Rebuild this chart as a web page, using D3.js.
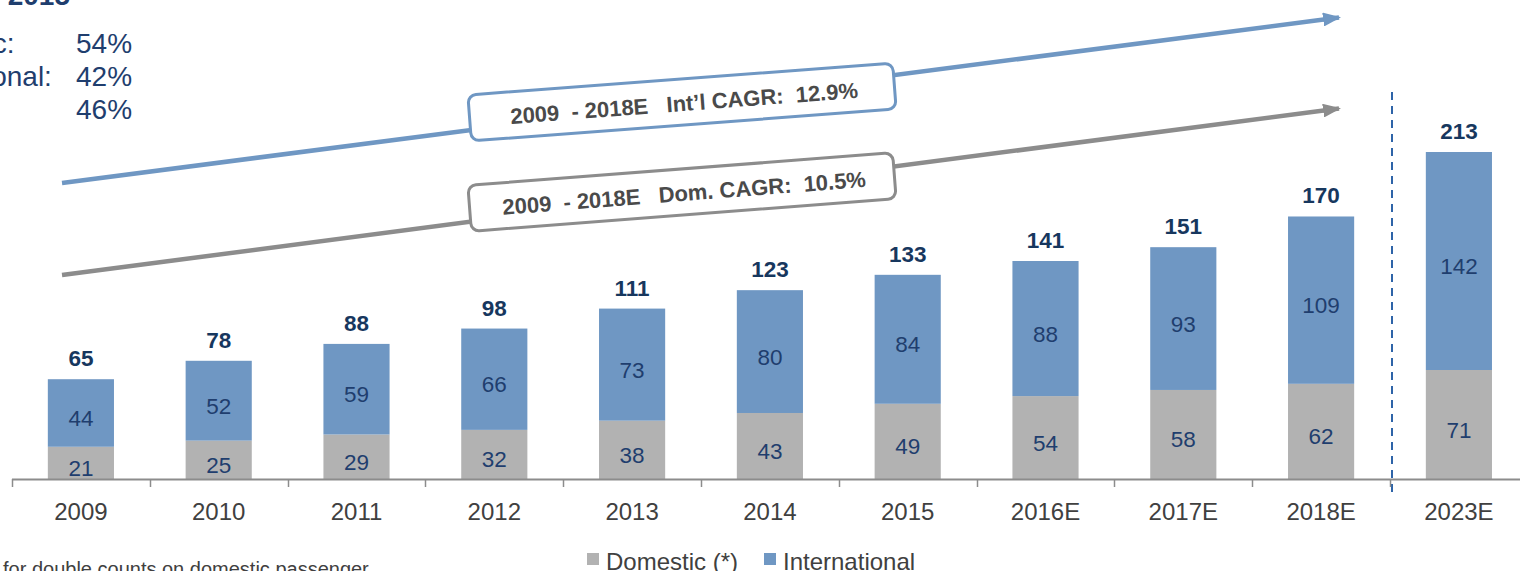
<!DOCTYPE html>
<html>
<head>
<meta charset="utf-8">
<script src="https://cdn.jsdelivr.net/npm/d3@7"></script>
<style>
  html, body { margin: 0; padding: 0; background: #fff; overflow: hidden; }
  svg { display: block; font-family: Arial, "Liberation Sans", sans-serif; }
</style>
</head>
<body>
<div id="chart"></div>
<script>
// ===== DATA =====
const years = ["2009", "2010", "2011", "2012", "2013", "2014", "2015", "2016E", "2017E", "2018E", "2023E"];
const domestic = [21, 25, 29, 32, 38, 43, 49, 54, 58, 62, 71];
const international = [44, 52, 59, 66, 73, 80, 84, 88, 93, 109, 142];
const totals = [65, 78, 88, 98, 111, 123, 133, 141, 151, 170, 213];

const shareLabels = ["Domestic:", "International:", "Total:"];
const shareValues = ["54%", "42%", "46%"];

const legendItems = ["Domestic (*)", "International"];
const cagrLabels = ["2009  - 2018E   Int\u2019l CAGR:  12.9%", "2009  - 2018E   Dom. CAGR:  10.5%"];

const GREY = "#b2b2b2";
const BLUE = "#6f97c3";
const NAVY = "#1f3e6e";
const TEXT = "#404040";

const width = 1520, height = 571;

const svg = d3.select('#chart')
    .append('svg')
    .attr('width', width)
    .attr('height', height);

// ===== SCALES =====
const x = d3.scaleBand()
    .domain(years)
    .range([12, 12 + 11 * 137.8])
    .paddingInner(0.52)
    .paddingOuter(0.26);

const y = d3.scaleLinear()
    .domain([0, 213])
    .range([479, 152]);

const step = x.step();
const bw = x.bandwidth();

// ===== TOP-LEFT SHARE BOX (partially cut off) =====
svg.append('text')
    .attr('x', 70).attr('y', 5)
    .attr('text-anchor', 'end')
    .attr('font-size', '28px').attr('font-weight', 'bold')
    .attr('fill', NAVY)
    .text('2015');

shareLabels.forEach((lab, i) => {
    svg.append('text')
        .attr('x', -110).attr('y', 53 + i * 33)
        .attr('font-size', '28px')
        .attr('fill', NAVY)
        .text(lab);
    svg.append('text')
        .attr('x', 76).attr('y', 53 + i * 33)
        .attr('font-size', '28px')
        .attr('fill', NAVY)
        .text(shareValues[i]);
});

// ===== CAGR ARROWS =====
const arrows = [
    { color: BLUE, x1: 62, y1: 183, x2: 1343, y2: 17, cx: 682, cy: 102, angle: -4.3, label: cagrLabels[0] },
    { color: "#8c8c8c", x1: 62, y1: 275, x2: 1343, y2: 108, cx: 682, cy: 192, angle: -4.4, label: cagrLabels[1] }
];

const defs = svg.append('defs');
arrows.forEach((a, i) => {
    defs.append('marker')
        .attr('id', 'head' + i)
        .attr('viewBox', '0 -7 18 14')
        .attr('refX', 16)
        .attr('refY', 0)
        .attr('markerUnits', 'userSpaceOnUse')
        .attr('markerWidth', 18)
        .attr('markerHeight', 14)
        .attr('orient', 'auto')
        .append('path')
        .attr('d', 'M0,-7L18,0L0,7Z')
        .attr('fill', a.color);
});

arrows.forEach((a, i) => {
    svg.append('line')
        .attr('x1', a.x1).attr('y1', a.y1)
        .attr('x2', a.x2 - 4).attr('y2', a.y2 + 0.5)
        .attr('stroke', a.color)
        .attr('stroke-width', 4.5)
        .attr('marker-end', `url(#head${i})`);

    const g = svg.append('g')
        .attr('transform', `translate(${a.cx},${a.cy}) rotate(${a.angle})`);
    g.append('rect')
        .attr('x', -213).attr('y', -23)
        .attr('width', 426).attr('height', 46)
        .attr('rx', 8).attr('ry', 8)
        .attr('fill', '#fff')
        .attr('stroke', a.color)
        .attr('stroke-width', 3);
    g.append('text')
        .attr('x', 2).attr('y', 9)
        .attr('text-anchor', 'middle')
        .attr('xml:space', 'preserve')
        .attr('font-size', '22px').attr('font-weight', 'bold')
        .attr('fill', '#4a4a4a')
        .style('white-space', 'pre')
        .text(a.label);
});

// ===== FORECAST DIVIDER =====
const divX = x("2023E") - (step - bw) / 2 + 2;
svg.append('line')
    .attr('x1', divX).attr('x2', divX)
    .attr('y1', 92).attr('y2', 495)
    .attr('stroke', '#2e64a8')
    .attr('stroke-width', 2)
    .attr('stroke-dasharray', '8,6');

// ===== BARS =====
const bars = svg.append('g');
years.forEach((yr, i) => {
    const d = domestic[i], n = international[i];
    bars.append('rect')
        .attr('x', x(yr)).attr('width', bw)
        .attr('y', y(d)).attr('height', y(0) - y(d))
        .attr('fill', GREY);
    bars.append('rect')
        .attr('x', x(yr)).attr('width', bw)
        .attr('y', y(d + n)).attr('height', y(d) - y(d + n))
        .attr('fill', BLUE);

    const cx = x(yr) + bw / 2;
    bars.append('text')
        .attr('x', cx).attr('y', (y(0) + y(d)) / 2 + 13)
        .attr('text-anchor', 'middle')
        .attr('font-size', '22.5px').attr('fill', NAVY)
        .text(d);
    bars.append('text')
        .attr('x', cx).attr('y', (y(d) + y(d + n)) / 2 + 13)
        .attr('text-anchor', 'middle')
        .attr('font-size', '22.5px').attr('fill', NAVY)
        .text(n);
    bars.append('text')
        .attr('x', cx).attr('y', y(d + n) - 13)
        .attr('text-anchor', 'middle')
        .attr('font-size', '22.5px').attr('font-weight', 'bold')
        .attr('fill', '#17375e')
        .text(totals[i]);
});

// ===== X AXIS =====
const axis = svg.append('g');
axis.append('line')
    .attr('x1', 12).attr('x2', width)
    .attr('y1', 479.5).attr('y2', 479.5)
    .attr('stroke', '#8c8c8c').attr('stroke-width', 2);
years.forEach((yr) => {
    const tx = Math.round(x(yr) - (step - bw) / 2) + 0.5;
    axis.append('line')
        .attr('x1', tx).attr('x2', tx)
        .attr('y1', 479).attr('y2', 487)
        .attr('stroke', '#8c8c8c').attr('stroke-width', 1.5);
    axis.append('text')
        .attr('x', x(yr) + bw / 2).attr('y', 520)
        .attr('text-anchor', 'middle')
        .attr('font-size', '24px').attr('fill', TEXT)
        .text(yr);
});

// ===== LEGEND =====
const legColors = [GREY, BLUE];
const legX = [587, 764];
legendItems.forEach((lab, i) => {
    svg.append('rect')
        .attr('x', legX[i]).attr('y', 553)
        .attr('width', 12).attr('height', 12)
        .attr('fill', legColors[i]);
    svg.append('text')
        .attr('x', legX[i] + 19).attr('y', 570)
        .attr('font-size', '24px').attr('fill', TEXT)
        .text(lab);
});

// ===== FOOTNOTE (cut off) =====
svg.append('text')
    .attr('x', 3).attr('y', 576)
    .attr('font-size', '20px').attr('fill', TEXT)
    .text('for double counts on domestic passenger');
</script>
</body>
</html>
